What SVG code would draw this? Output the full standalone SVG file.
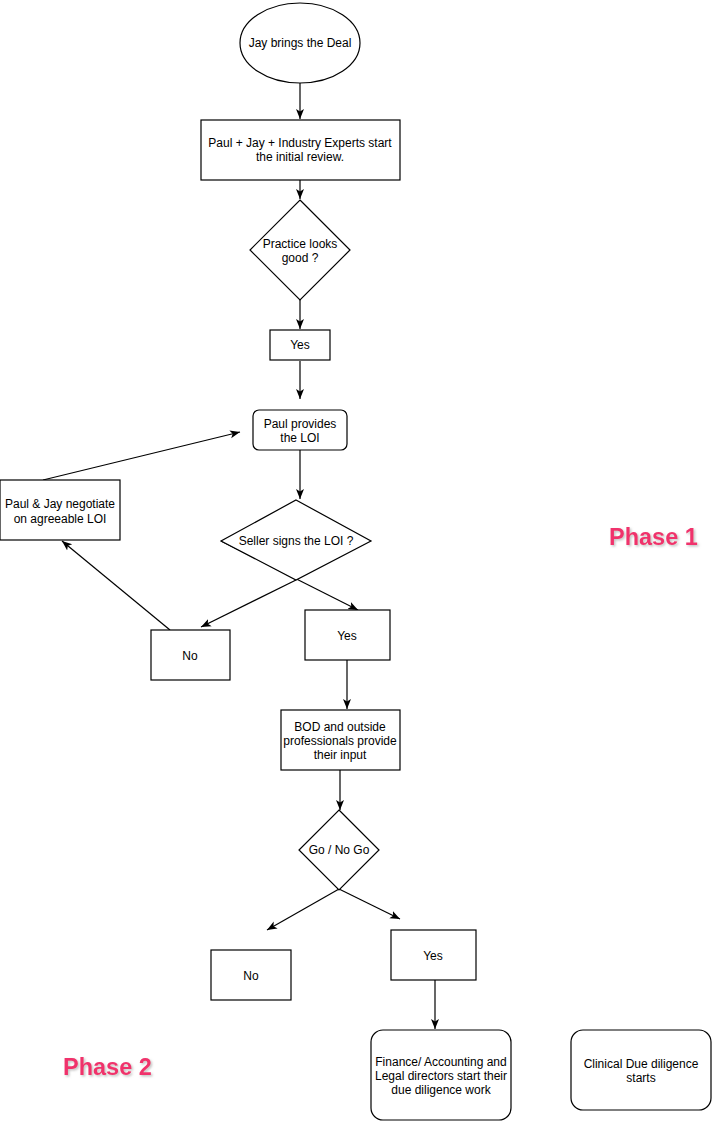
<svg xmlns="http://www.w3.org/2000/svg" width="712" height="1121" viewBox="0 0 712 1121">
<style>
.n{fill:#fff;stroke:#000;stroke-width:1.2}
.t{font-family:"Liberation Sans",Arial,sans-serif;font-size:12px;fill:#000;text-anchor:middle}
.c line{stroke:#000;stroke-width:1.2;marker-end:url(#ah)}
.ph{font-family:"Liberation Sans",Arial,sans-serif;font-size:23.5px;font-weight:bold;fill:#F0336C;filter:url(#sh)}
</style>
<defs>
<marker id="ah" viewBox="0 0 10 10" refX="10" refY="5" markerWidth="10" markerHeight="10" markerUnits="userSpaceOnUse" orient="auto">
<path d="M0,1 L10,5 L0,9 L2.5,5 z" fill="#000"/>
</marker>
<filter id="sh" x="-10%" y="-20%" width="130%" height="150%">
<feDropShadow dx="1.5" dy="1.5" stdDeviation="1" flood-color="#999" flood-opacity="0.6"/>
</filter>
</defs>
<rect width="712" height="1121" fill="#fff"/>
<g class="c" id="connectors">
<line x1="300" y1="83" x2="300" y2="119"/>
<line x1="300" y1="180" x2="300" y2="199"/>
<line x1="300" y1="300" x2="300" y2="329"/>
<line x1="300" y1="361" x2="300" y2="399"/>
<line x1="300" y1="450" x2="300" y2="499"/>
<line x1="296" y1="580" x2="201" y2="627"/>
<line x1="221" y1="541" x2="358" y2="610"/>
<line x1="170" y1="630" x2="62" y2="541"/>
<line x1="43" y1="480" x2="240" y2="432"/>
<line x1="347" y1="660" x2="347" y2="709"/>
<line x1="340" y1="770" x2="340" y2="810"/>
<line x1="339" y1="889" x2="267" y2="930"/>
<line x1="339" y1="889" x2="400" y2="919"/>
<line x1="435" y1="980" x2="435" y2="1029"/>
</g>
<g id="start">
<ellipse class="n" cx="300" cy="43" rx="60" ry="40"/>
<text class="t" x="300" y="47">Jay brings the Deal</text>
</g>
<g id="review">
<rect class="n" x="201" y="120" width="199" height="60"/>
<text class="t" x="300" y="147">Paul + Jay + Industry Experts start</text>
<text class="t" x="300" y="161">the initial review.</text>
</g>
<g id="practice">
<polygon class="n" points="300,200 350,250 300,300 250,250"/>
<text class="t" x="300" y="248">Practice looks</text>
<text class="t" x="300" y="262">good ?</text>
</g>
<g id="yes1">
<rect class="n" x="270" y="330" width="60" height="30"/>
<text class="t" x="300" y="349">Yes</text>
</g>
<g id="loi">
<rect class="n" x="253" y="410" width="94" height="40" rx="6"/>
<text class="t" x="300" y="428">Paul provides</text>
<text class="t" x="300" y="442">the LOI</text>
</g>
<g id="negotiate">
<rect class="n" x="0" y="480" width="120" height="60"/>
<text class="t" x="60" y="508">Paul &amp; Jay negotiate</text>
<text class="t" x="60" y="523">on agreeable LOI</text>
</g>
<g id="seller">
<polygon class="n" points="296,500 371,541 296,580 221,541"/>
<text class="t" x="296" y="545">Seller signs the LOI ?</text>
</g>
<g id="no1">
<rect class="n" x="151" y="630" width="79" height="50"/>
<text class="t" x="190" y="660">No</text>
</g>
<g id="yes2">
<rect class="n" x="305" y="610" width="85" height="50"/>
<text class="t" x="347" y="640">Yes</text>
</g>
<g id="bod">
<rect class="n" x="281" y="710" width="119" height="60"/>
<text class="t" x="340" y="731">BOD and outside</text>
<text class="t" x="340" y="745">professionals provide</text>
<text class="t" x="340" y="759">their input</text>
</g>
<g id="gonogo">
<polygon class="n" points="339,810 379,850 339,890 299,850"/>
<text class="t" x="339" y="854">Go / No Go</text>
</g>
<g id="no2">
<rect class="n" x="211" y="950" width="80" height="50"/>
<text class="t" x="251" y="980">No</text>
</g>
<g id="yes3">
<rect class="n" x="391" y="930" width="85" height="50"/>
<text class="t" x="433" y="960">Yes</text>
</g>
<g id="finance">
<rect class="n" x="371" y="1030" width="140" height="90" rx="12"/>
<text class="t" x="441" y="1066">Finance/ Accounting and</text>
<text class="t" x="441" y="1080">Legal directors start their</text>
<text class="t" x="441" y="1094">due diligence work</text>
</g>
<g id="clinical">
<rect class="n" x="571" y="1030" width="140" height="80" rx="12"/>
<text class="t" x="641" y="1068">Clinical Due diligence</text>
<text class="t" x="641" y="1082">starts</text>
</g>
<g id="phase1">
<text class="ph" x="609" y="545">Phase 1</text>
</g>
<g id="phase2">
<text class="ph" x="63" y="1075">Phase 2</text>
</g>
</svg>
